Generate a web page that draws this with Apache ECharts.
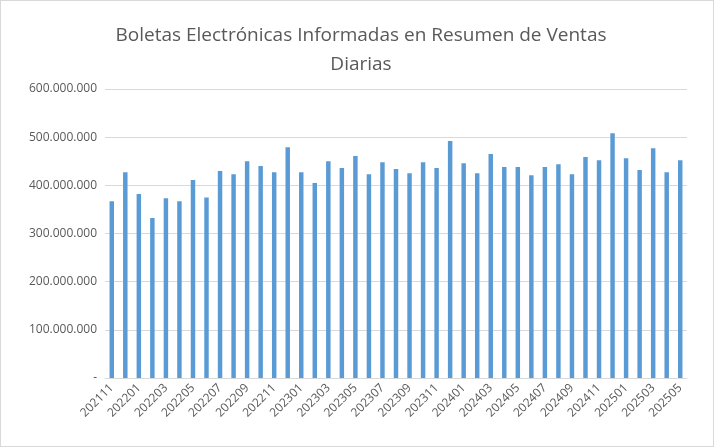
<!DOCTYPE html><html><head><meta charset="utf-8"><script src="https://cdn.jsdelivr.net/npm/echarts@6/dist/echarts.min.js"></script></head><body style="margin:0"><div id="c" style="width:712px;height:445px;border:1px solid #d9d9d9"></div><script>
const categories=['202111','202112','202201','202202','202203','202204','202205','202206','202207','202208','202209','202210','202211','202212','202301','202302','202303','202304','202305','202306','202307','202308','202309','202310','202311','202312','202401','202402','202403','202404','202405','202406','202407','202408','202409','202410','202411','202412','202501','202502','202503','202504','202505'];
const valuesM=[367,427,382,332,373,367,411,375,430,423,450,440,427,479,427,405,450,436,461,423,448,434,425,448,436,492,446,425,465,438,438,421,438,444,423,459,452,508,456,432,477,427,452];
const values=valuesM.map(v=>v*1e6);
const fmt=v=>v===0?'-':String(v).replace(/\B(?=(\d{3})+(?!\d))/g,'.');
const ch=echarts.init(document.getElementById('c'));
ch.setOption({
title:{text:'Boletas Electrónicas Informadas en Resumen de Ventas\nDiarias',left:355,textAlign:'center',top:15,textStyle:{fontFamily:'Open Sans',fontWeight:'normal',fontSize:19,color:'#595959',lineHeight:29}},
grid:{left:104,right:26,top:88,bottom:68},
xAxis:{type:'category',data:categories,axisTick:{show:false},axisLine:{lineStyle:{color:'#d9d9d9'}},axisLabel:{interval:1,rotate:45,color:'#595959',fontSize:12,fontFamily:'Open Sans'}},
yAxis:{type:'value',min:0,max:600e6,interval:100e6,axisLabel:{formatter:fmt,color:'#595959',fontSize:12,fontFamily:'Open Sans'},splitLine:{lineStyle:{color:'#d9d9d9'}}},
series:[{type:'bar',data:values,barWidth:'33%',itemStyle:{color:'#5b9bd5'}}],
animation:false
});
</script></body></html>
